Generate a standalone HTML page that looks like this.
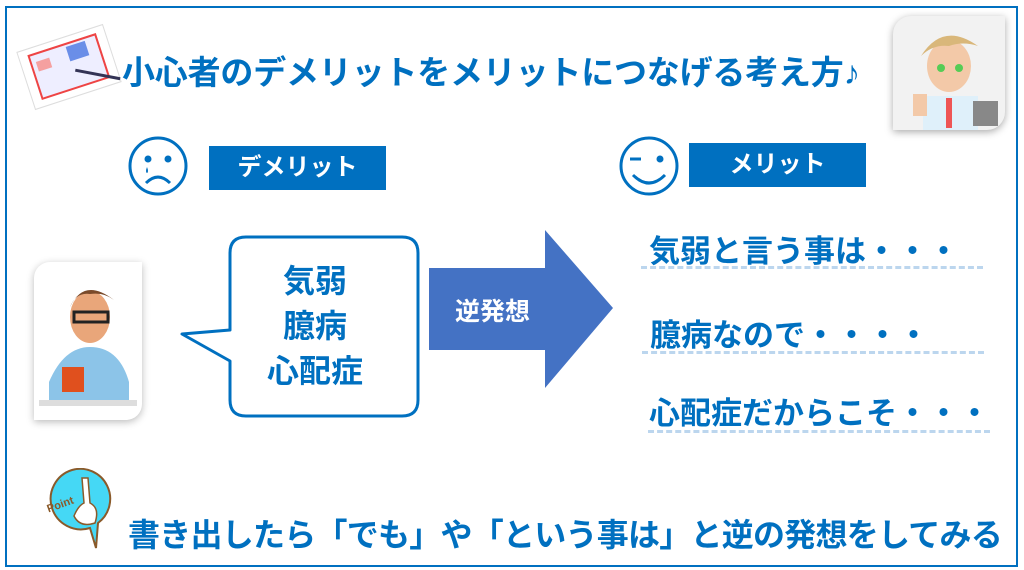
<!DOCTYPE html>
<html><head><meta charset="utf-8"><style>
body{margin:0;width:1024px;height:570px;background:#fff;position:relative;overflow:hidden;font-family:"Liberation Sans","Noto Sans CJK JP",sans-serif;font-weight:bold;color:#0070c0}
.a{position:absolute}
.frame{left:5px;top:6px;width:1009px;height:557px;border:2px solid #0070c0}
.ban{background:#0070c0;color:#fff;font-size:24px;text-align:center;line-height:44px}
.item{font-size:31px;white-space:nowrap}
.dash{height:0;border-top:3px dashed #bcd6ee}
</style></head><body>
<div class="a frame"></div>
<svg class="a" style="left:14px;top:22px" width="110" height="90"><g transform="rotate(-18 55 45)"><rect x="10" y="15" width="90" height="60" fill="#fff" stroke="#ddd"/><rect x="20" y="22" width="70" height="45" fill="#eef" stroke="#e44" stroke-width="2"/><rect x="58" y="25" width="20" height="15" fill="#6a8ee8"/><rect x="25" y="30" width="14" height="10" fill="#f5a0a0"/><line x1="60" y1="50" x2="100" y2="72" stroke="#335" stroke-width="3"/></g></svg>
<div class="a" style="left:122px;top:46px;font-size:33px;white-space:nowrap;letter-spacing:-0.2px">小心者のデメリットをメリットにつなげる考え方♪</div>
<div class="a" style="left:893px;top:16px;width:112px;height:114px;background:#f2f2f2;border-radius:18px 0 18px 0;box-shadow:0 2px 8px #aaa"><svg width="112" height="114"><ellipse cx="56" cy="50" rx="22" ry="26" fill="#f3c9a8"/><path d="M28 40 Q50 5 85 30 Q70 25 56 30 Q40 28 28 40Z" fill="#d9b77a"/><circle cx="48" cy="52" r="4" fill="#5c5"/><circle cx="66" cy="52" r="4" fill="#5c5"/><rect x="30" y="80" width="55" height="34" fill="#dff0fa"/><rect x="53" y="82" width="6" height="30" fill="#e55"/><rect x="20" y="78" width="14" height="22" fill="#f3c9a8"/><rect x="80" y="85" width="25" height="25" fill="#888"/></svg></div>
<svg class="a" style="left:126px;top:135px" width="64" height="64"><circle cx="32" cy="31" r="28" fill="none" stroke="#0070c0" stroke-width="3"/><circle cx="22" cy="24" r="3.5" fill="#0070c0"/><circle cx="42" cy="24" r="3.5" fill="#0070c0"/><path d="M20 48 Q32 36 44 48" fill="none" stroke="#0070c0" stroke-width="3"/><path d="M21 32 q-2 5 0 6 q2-1 0-6z" fill="#0070c0"/></svg>
<div class="a ban" style="left:209px;top:146px;width:177px">デメリット</div>
<svg class="a" style="left:617px;top:135px" width="64" height="64"><circle cx="32" cy="31" r="28" fill="none" stroke="#0070c0" stroke-width="3"/><line x1="13" y1="24" x2="24" y2="24" stroke="#0070c0" stroke-width="3"/><circle cx="43" cy="24" r="3.5" fill="#0070c0"/><path d="M16 40 Q32 56 48 40" fill="none" stroke="#0070c0" stroke-width="3"/></svg>
<div class="a ban" style="left:689px;top:143px;width:177px">メリット</div>
<div class="a" style="left:34px;top:262px;width:108px;height:158px;background:#fff;border-radius:16px 0 16px 0;box-shadow:0 2px 8px #bbb"><svg width="108" height="158"><ellipse cx="56" cy="55" rx="20" ry="26" fill="#e9a67a"/><path d="M36 45 Q50 15 80 38 Q70 30 56 32 Q42 30 36 45Z" fill="#7a4a2a"/><rect x="40" y="50" width="34" height="10" fill="none" stroke="#222" stroke-width="3"/><path d="M15 120 Q30 85 56 85 Q85 85 95 120 L95 140 L15 140Z" fill="#8cc4e8"/><rect x="28" y="105" width="22" height="25" fill="#e0501e"/><rect x="5" y="138" width="98" height="6" fill="#ddd"/></svg></div>
<svg class="a" style="left:175px;top:233px" width="250" height="190"><path d="M55 20 Q55 4 71 4 L227 4 Q243 4 243 20 L243 167 Q243 183 227 183 L71 183 Q55 183 55 167 L55 128 L7 101 L55 97 Z" fill="#fff" stroke="#0070c0" stroke-width="3" stroke-linejoin="round"/></svg>
<div class="a" style="left:230px;top:259px;width:170px;text-align:center;font-size:32px;line-height:45px">気弱<br>臆病<br>心配症</div>
<svg class="a" style="left:429px;top:228px" width="186" height="164"><polygon points="0,40 116,40 116,2 184,80 116,160 116,122 0,122" fill="#4472c4"/></svg>
<div class="a" style="left:455px;top:292px;color:#fff;font-size:25px">逆発想</div>
<div class="a item" style="left:649px;top:226px">気弱と言う事は・・・</div>
<div class="a dash" style="left:641px;top:266px;width:342px"></div>
<div class="a item" style="left:650px;top:310px">臆病なので・・・・</div>
<div class="a dash" style="left:642px;top:351px;width:342px"></div>
<div class="a item" style="left:649px;top:388px">心配症だからこそ・・・</div>
<div class="a dash" style="left:648px;top:430px;width:342px"></div>
<svg class="a" style="left:40px;top:468px" width="72" height="84"><path d="M32 2 A30 30 0 1 0 50 60 L56 80 L58 55 A30 30 0 0 0 32 2Z" fill="#45d8f5" stroke="#8a5a2a" stroke-width="2"/><text x="6" y="40" font-size="11" fill="#8a5a2a" font-family="Liberation Sans" transform="rotate(-20 20 35)">Point</text><path d="M42 10 L48 10 L50 35 Q60 40 55 55 Q40 60 34 48 Q38 38 44 35Z" fill="#fff" stroke="#8a5a2a" stroke-width="1.5"/></svg>
<div class="a" style="left:128px;top:510px;font-size:32px;white-space:nowrap;letter-spacing:-0.75px">書き出したら「でも」や「という事は」と逆の発想をしてみる</div>
</body></html>
